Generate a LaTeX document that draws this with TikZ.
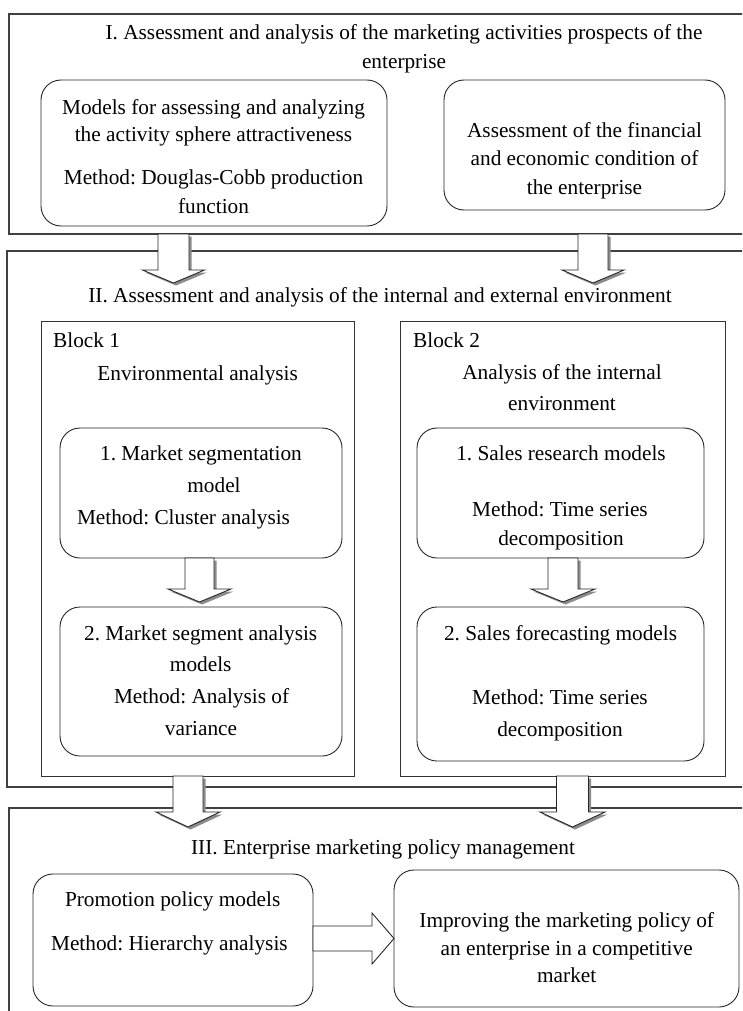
\documentclass[tikz,border=0pt]{standalone}
\usepackage{fontspec}
\setmainfont{Liberation Serif}
\usetikzlibrary{calc}
\tikzset{
  sect/.style={draw=black!75, line width=1.2pt, inner sep=0pt, outer sep=0pt, anchor=north west},
  blk/.style={draw=black!80, line width=0.9pt, inner sep=0pt, outer sep=0pt, anchor=north west},
  rbox/.style={draw=black!85, line width=0.9pt, rounded corners=20pt, inner sep=0pt, outer sep=0pt, anchor=north west},
  txt/.style={font=\fontsize{21.3}{28}\selectfont, anchor=base, inner sep=0pt},
  txtl/.style={txt, anchor=base west},
  arrowshadow/.style={fill=black!45},
  arrowbody/.style={draw=black!85, line width=0.9pt, fill=white, line join=miter},
}
\newcommand\dnarrow[5]{% start, tip, shaft half, head half, head length
  \fill[arrowshadow] ($(#1)+(-#3+2.5,2.5)$) -- ($(#1)+(#3+2.5,2.5)$) -- ($(#2)+(#3+2.5,-#5+2.5)$) -- ($(#2)+(#4+2.5,-#5+2.5)$) -- ($(#2)+(2.5,2.5)$) -- ($(#2)+(-#4+2.5,-#5+2.5)$) -- ($(#2)+(-#3+2.5,-#5+2.5)$) -- cycle;
  \draw[arrowbody] ($(#1)+(-#3,0)$) -- ($(#1)+(#3,0)$) -- ($(#2)+(#3,-#5)$) -- ($(#2)+(#4,-#5)$) -- (#2) -- ($(#2)+(-#4,-#5)$) -- ($(#2)+(-#3,-#5)$) -- cycle;
}
\newcommand\tl[4]{\node[txt] (#1) at (#2,#3) {#4};}
\begin{document}
\frenchspacing
\begin{tikzpicture}[x=1pt,y=-1pt]
\useasboundingbox (0,0) rectangle (742,1011);
\clip (0,0) rectangle (742,1011);
\fill[white] (0,0) rectangle (742,1011);
% sections
\node[sect, minimum width=751, minimum height=220] (secI) at (9,14) {};
\node[sect, minimum width=753, minimum height=536] (secII) at (7,251) {};
\node[sect, minimum width=751, minimum height=240] (secIII) at (9,808) {};
% blocks
\node[blk, minimum width=313, minimum height=455] (blk1) at (41,321) {};
\node[blk, minimum width=325, minimum height=455] (blk2) at (400,321) {};
% rounded boxes
\node[rbox, minimum width=346, minimum height=146] (boxA) at (41,80) {};
\node[rbox, minimum width=281, minimum height=130] (boxB) at (444,80) {};
\node[rbox, minimum width=282, minimum height=130] (b11) at (60,428) {};
\node[rbox, minimum width=287, minimum height=130] (b21) at (417,428) {};
\node[rbox, minimum width=282, minimum height=149] (b12) at (60,607) {};
\node[rbox, minimum width=287, minimum height=154] (b22) at (417,607) {};
\node[rbox, minimum width=280, minimum height=132] (boxP) at (33,874) {};
\node[rbox, minimum width=345, minimum height=137] (boxQ) at (394,870) {};
% arrow coordinates
\coordinate (a1t) at (173.5,283);
\coordinate (a1s) at (a1t |- secI.south);
\coordinate (a2t) at (593,283);
\coordinate (a2s) at (a2t |- secI.south);
\coordinate (a3t) at (199.5,602);
\coordinate (a3s) at (a3t |- b11.south);
\coordinate (a4t) at (563,602);
\coordinate (a4s) at (a4t |- b21.south);
\coordinate (a5t) at (188,827);
\coordinate (a5s) at (a5t |- blk1.south);
\coordinate (a6t) at (572.5,827);
\coordinate (a6s) at (a6t |- blk2.south);
\dnarrow{a1s}{a1t}{15.5}{31}{13}
\dnarrow{a2s}{a2t}{15}{31}{13}
\dnarrow{a3s}{a3t}{14.5}{31.5}{13}
\dnarrow{a4s}{a4t}{15}{32}{13}
\dnarrow{a5s}{a5t}{15}{32}{15}
\dnarrow{a6s}{a6t}{16}{32.5}{15}
% horizontal arrow
\coordinate (ht) at (boxQ.west);
\coordinate (hs) at (boxP.east |- ht);
\draw[arrowbody] ($(hs)+(0,-12.5)$) -- ($(ht)+(-22,-12.5)$) -- ($(ht)+(-22,-25.5)$) -- (ht) -- ($(ht)+(-22,25.5)$) -- ($(ht)+(-22,12.5)$) -- ($(hs)+(0,12.5)$) -- cycle;
% texts
\tl{tI1}{404}{40}{I. Assessment and analysis of the marketing activities prospects of the}
\tl{tI2}{404}{69}{enterprise}
\tl{tA1}{213.5}{115}{Models for assessing and analyzing}
\tl{tA2}{213.5}{142}{the activity sphere attractiveness}
\tl{tA3}{213.5}{185}{Method: Douglas-Cobb production}
\tl{tA4}{213.5}{213}{function}
\tl{tB1}{584.5}{138}{Assessment of the financial}
\tl{tB2}{584.5}{166}{and economic condition of}
\tl{tB3}{584.5}{194}{the enterprise}
\tl{tII}{380}{302}{II. Assessment and analysis of the internal and external environment}
\node[txtl] (tK1) at (53,347) {Block 1};
\tl{tK1b}{197.6}{380}{Environmental analysis}
\node[txtl] (tK2) at (413,347) {Block 2};
\tl{tK2b}{562}{379}{Analysis of the internal}
\tl{tK2c}{562}{410}{environment}
\tl{t111}{201}{460}{1. Market segmentation}
\tl{t112}{214}{492}{model}
\tl{t113}{183.5}{524}{Method: Cluster analysis}
\tl{t211}{561}{460}{1. Sales research models}
\tl{t212}{560}{516}{Method: Time series}
\tl{t213}{561}{545}{decomposition}
\tl{t121}{200.7}{640}{2. Market segment analysis}
\tl{t122}{200.7}{671}{models}
\tl{t123}{201.6}{703}{Method: Analysis of}
\tl{t124}{201}{735}{variance}
\tl{t221}{560.6}{640}{2. Sales forecasting models}
\tl{t222}{560}{704}{Method: Time series}
\tl{t223}{560}{736}{decomposition}
\tl{tIII}{383}{854}{III. Enterprise marketing policy management}
\tl{tP1}{172.7}{906}{Promotion policy models}
\tl{tP2}{169.4}{950}{Method: Hierarchy analysis}
\tl{tQ1}{566.7}{927}{Improving the marketing policy of}
\tl{tQ2}{566.7}{955}{an enterprise in a competitive}
\tl{tQ3}{566.7}{982}{market}
\end{tikzpicture}
\end{document}
